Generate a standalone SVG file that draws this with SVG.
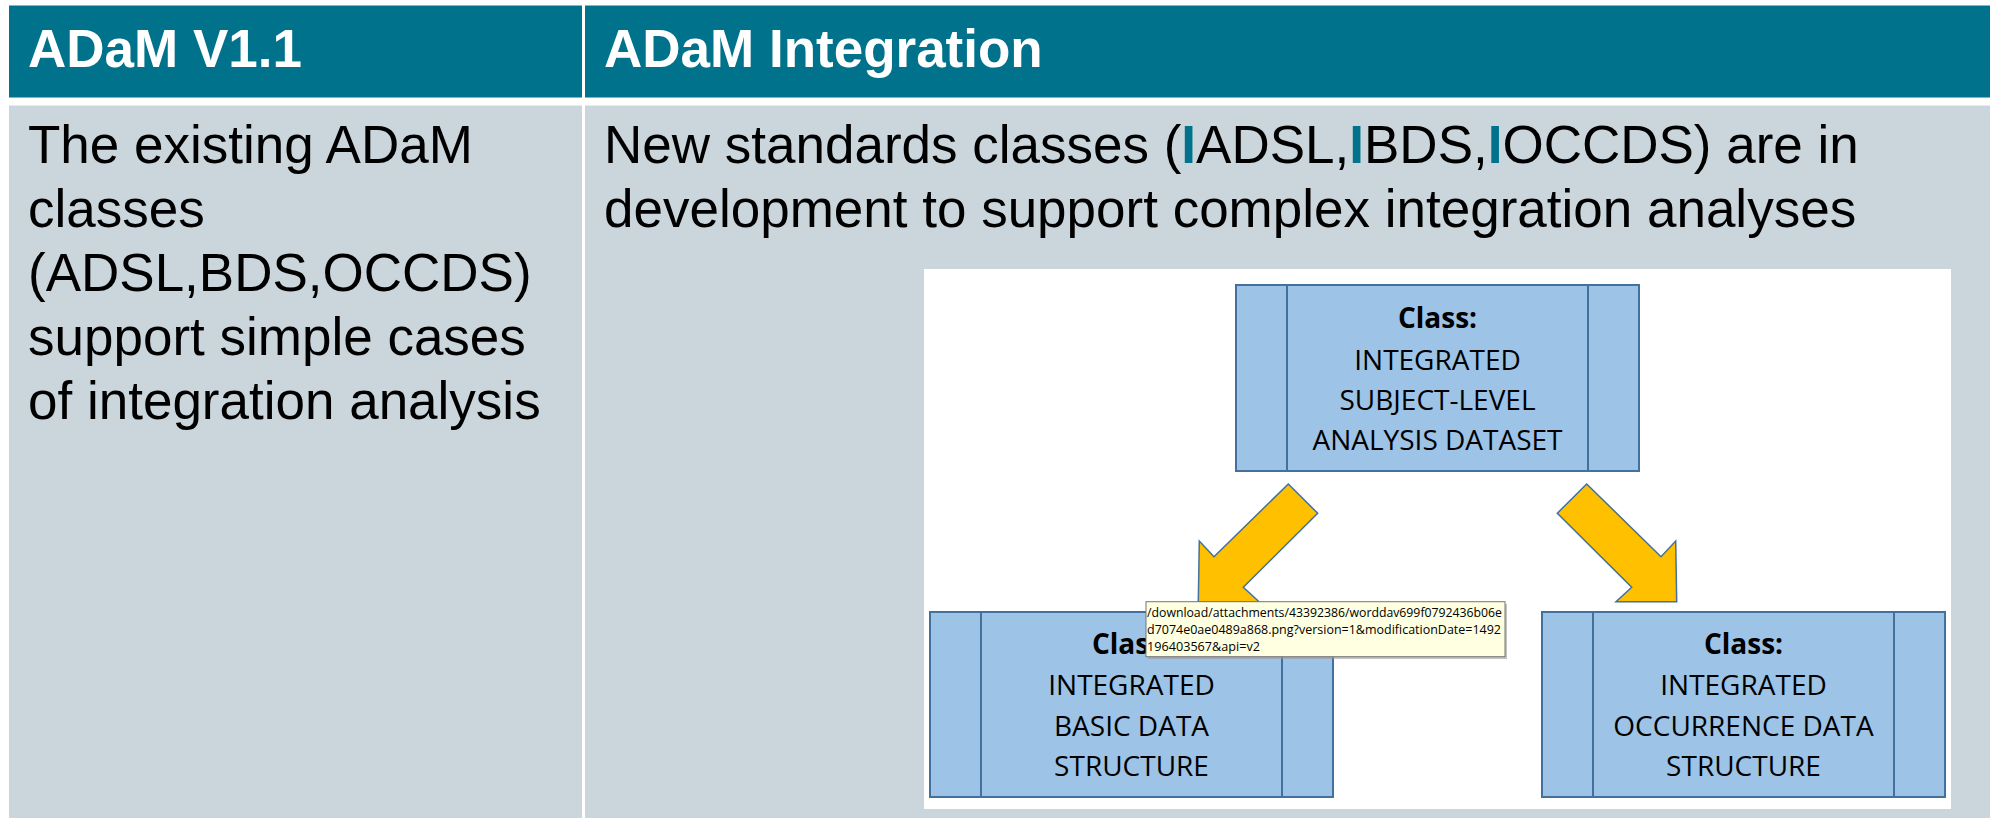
<svg xmlns="http://www.w3.org/2000/svg" width="1990" height="818" viewBox="0 0 1990 818">
<style>
.hdr{fill:#00728B}
.body{fill:#CAD6DC}
.ht{font-family:"Liberation Sans",Arial,sans-serif;font-weight:bold;font-size:53px;fill:#FFFFFF}
.bt{font-family:"Liberation Sans",Arial,sans-serif;font-size:53px;fill:#000000}
.hi{fill:#00728B;font-weight:bold}
.box{fill:#9DC3E6;stroke:#41719C;stroke-width:2}
.bl{stroke:#41719C;stroke-width:2}
.cls{font-family:"Open Sans",sans-serif;font-weight:bold;font-size:28px;fill:#000000;text-anchor:middle}
.ct{font-family:"Open Sans",sans-serif;font-size:28px;fill:#000000;text-anchor:middle}
.arr{fill:#FFC000;stroke:#41719C;stroke-width:1.5;stroke-linejoin:miter}
.tip{fill:#FFFFE1;stroke:#767676;stroke-width:1}
.tt{font-family:"Open Sans",sans-serif;font-size:13px;fill:#000000}
</style>
<rect x="0" y="0" width="1990" height="818" fill="#FFFFFF"/>
<g id="table">
  <rect class="hdr" x="9" y="5.5" width="573" height="92"/>
  <rect class="hdr" x="585" y="5.5" width="1405" height="92"/>
  <rect class="body" x="9" y="105.5" width="573" height="712.5"/>
  <rect class="body" x="585" y="105.5" width="1405" height="712.5"/>
</g>
<g id="header-left">
  <text class="ht" x="28" y="67">ADaM V1.1</text>
</g>
<g id="header-right">
  <text class="ht" x="604" y="67">ADaM Integration</text>
</g>
<g id="cell-left">
  <text class="bt" x="28" y="162.7">The existing ADaM</text>
  <text class="bt" x="28" y="226.7">classes</text>
  <text class="bt" x="28" y="290.7">(ADSL,BDS,OCCDS)</text>
  <text class="bt" x="28" y="354.7">support simple cases</text>
  <text class="bt" x="28" y="418.7">of integration analysis</text>
</g>
<g id="cell-right">
  <text class="bt" x="604" y="162.7">New standards classes (<tspan class="hi">I</tspan>ADSL,<tspan class="hi">I</tspan>BDS,<tspan class="hi">I</tspan>OCCDS) are in</text>
  <text class="bt" x="604" y="226.7">development to support complex integration analyses</text>
</g>
<g id="picture">
  <rect x="924" y="269" width="1027" height="540" fill="#FFFFFF"/>
</g>
<g id="connectors">
  <polygon class="arr" points="1288.3,484 1317.7,513.3 1243.3,587.3 1259,601.7 1198.3,601.7 1199.3,541 1214,556.7"/>
  <polygon class="arr" points="1586.7,484 1557.3,513.3 1631.7,587.3 1616,601.7 1676.7,601.7 1675.7,541 1661,556.7"/>
</g>
<g id="node-adsl">
  <rect class="box" x="1236" y="285" width="403" height="186"/>
  <line class="bl" x1="1287" y1="285" x2="1287" y2="471"/>
  <line class="bl" x1="1588" y1="285" x2="1588" y2="471"/>
  <text class="cls" x="1437.5" y="328">Class:</text>
  <text class="ct" x="1437.5" y="370">INTEGRATED</text>
  <text class="ct" x="1437.5" y="410">SUBJECT-LEVEL</text>
  <text class="ct" x="1437.5" y="450">ANALYSIS DATASET</text>
</g>
<g id="node-bds">
  <rect class="box" x="930" y="612" width="403" height="185"/>
  <line class="bl" x1="981" y1="612" x2="981" y2="797"/>
  <line class="bl" x1="1282" y1="612" x2="1282" y2="797"/>
  <text class="cls" x="1131.5" y="654">Class:</text>
  <text class="ct" x="1131.5" y="695">INTEGRATED</text>
  <text class="ct" x="1131.5" y="736">BASIC DATA</text>
  <text class="ct" x="1131.5" y="776">STRUCTURE</text>
</g>
<g id="node-occds">
  <rect class="box" x="1542" y="612" width="403" height="185"/>
  <line class="bl" x1="1593" y1="612" x2="1593" y2="797"/>
  <line class="bl" x1="1894" y1="612" x2="1894" y2="797"/>
  <text class="cls" x="1743.5" y="654">Class:</text>
  <text class="ct" x="1743.5" y="695">INTEGRATED</text>
  <text class="ct" x="1743.5" y="736">OCCURRENCE DATA</text>
  <text class="ct" x="1743.5" y="776">STRUCTURE</text>
</g>
<g id="tooltip">
  <rect x="1148" y="604" width="359" height="55" fill="#9A9A9A" opacity="0.6"/>
  <rect class="tip" x="1146" y="601.7" width="359" height="55"/>
  <text class="tt" x="1147" y="617" textLength="355" lengthAdjust="spacingAndGlyphs">/download/attachments/43392386/worddav699f0792436b06e</text>
  <text class="tt" x="1147" y="634" textLength="354" lengthAdjust="spacingAndGlyphs">d7074e0ae0489a868.png?version=1&amp;modificationDate=1492</text>
  <text class="tt" x="1147" y="651" textLength="113" lengthAdjust="spacingAndGlyphs">196403567&amp;api=v2</text>
</g>
</svg>
